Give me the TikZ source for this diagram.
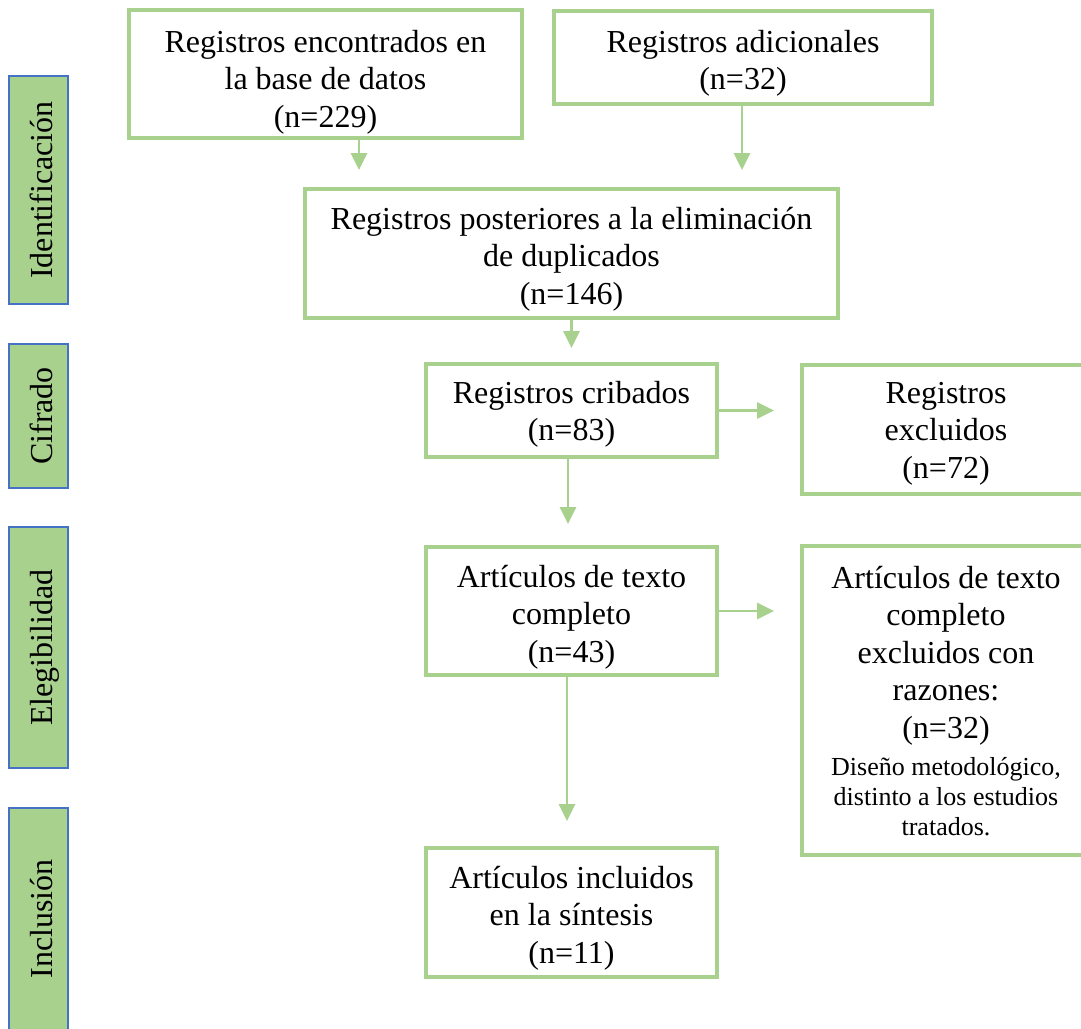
\documentclass[tikz,border=0pt]{standalone}
\usepackage{fontspec}
\setmainfont{Liberation Serif}
\usetikzlibrary{arrows.meta}
\definecolor{gr}{HTML}{A9D18E}
\definecolor{bl}{HTML}{4472C4}
\begin{document}
\begin{tikzpicture}[x=1pt,y=-1pt,
  box/.style={draw=gr, line width=3.8pt, fill=white, inner sep=0pt, align=center,
    font=\fontsize{32}{37.5}\selectfont},
  side/.style={draw=bl, line width=1.5pt, fill=gr, inner sep=0pt, rotate=90,
    font=\fontsize{32}{37.5}\selectfont, text height=27pt, text depth=0pt},
  arr/.style={draw=gr, line width=2.5pt, -{Triangle[length=17pt,width=16pt]}}]
\useasboundingbox (0,0) rectangle (1081,1028);

% side labels
\node[side, minimum width=228pt, minimum height=59pt] (s1) at (38.5,190) {Identificación};
\node[side, minimum width=144pt, minimum height=59pt] (s2) at (38.5,416) {Cifrado};
\node[side, minimum width=241pt, minimum height=59pt] (s3) at (38.5,647.5) {Elegibilidad};
\node[side, minimum width=222pt, minimum height=59pt] (s4) at (38.5,919) {Inclusión};

% boxes
\node[box, minimum width=393pt, minimum height=128pt] (b1) at (325.5,74)
  {\rule{0pt}{38pt}Registros encontrados en\\la base de datos\\(n=229)\rule[-7pt]{0pt}{7pt}};
\node[box, minimum width=378pt, minimum height=93pt] (b2) at (743,57.5)
  {\rule{0pt}{34pt}Registros adicionales\\(n=32)\rule[-7.5pt]{0pt}{7.5pt}};
\node[box, minimum width=533pt, minimum height=129pt] (b3) at (571.5,253.5)
  {\rule{0pt}{34pt}Registros posteriores a la eliminación\\de duplicados\\(n=146)\rule[-8pt]{0pt}{8pt}};
\node[box, minimum width=291pt, minimum height=93pt] (b4) at (571.5,410.5)
  {\rule{0pt}{30pt}Registros cribados\\(n=83)\rule[-7.5pt]{0pt}{7.5pt}};
\node[box, minimum width=288pt, minimum height=129pt] (b5) at (946,429.5)
  {\rule{0pt}{30pt}Registros\\excluidos\\(n=72)\rule[-8pt]{0pt}{8pt}};
\node[box, minimum width=291pt, minimum height=128pt] (b6) at (571.5,611)
  {\rule{0pt}{34pt}Artículos de texto\\completo\\(n=43)\rule[-7pt]{0pt}{7pt}};
\node[box, minimum width=288pt, minimum height=309pt] (b7) at (946,700.5)
  {\rule{0pt}{30pt}Artículos de texto\\completo\\excluidos con\\razones:\\(n=32)\\
   \fontsize{26}{30}\selectfont Diseño metodológico,\\[-7.5pt]
   \fontsize{26}{30}\selectfont distinto a los estudios\\[-7.5pt]
   \fontsize{26}{30}\selectfont tratados.\rule[-7.5pt]{0pt}{7.5pt}};
\node[box, minimum width=291pt, minimum height=129pt] (b8) at (571.5,912.5)
  {\rule{0pt}{34pt}Artículos incluidos\\en la síntesis\\(n=11)\rule[-8pt]{0pt}{8pt}};

% arrow columns
\coordinate (x1) at (359,0);
\coordinate (x2) at (742,0);
\coordinate (x4) at (568,0);
\coordinate (x5) at (567,0);

% connectors
\draw[arr, shorten >=17pt] (b1.south -| x1) -- (b3.north -| x1);
\draw[arr, shorten >=17pt] (b2.south -| x2) -- (b3.north -| x2);
\draw[arr, shorten >=14pt] (b3.south) -- (b4.north);
\draw[arr, shorten >=21pt] (b4.south -| x4) -- (b6.north -| x4);
\draw[arr, shorten >=25pt] (b6.south -| x5) -- (b8.north -| x5);
\draw[arr, shorten >=26pt] (b4.east) -- (b5.west |- b4.east);
\draw[arr, shorten >=26pt] (b6.east) -- (b7.west |- b6.east);
\end{tikzpicture}
\end{document}
